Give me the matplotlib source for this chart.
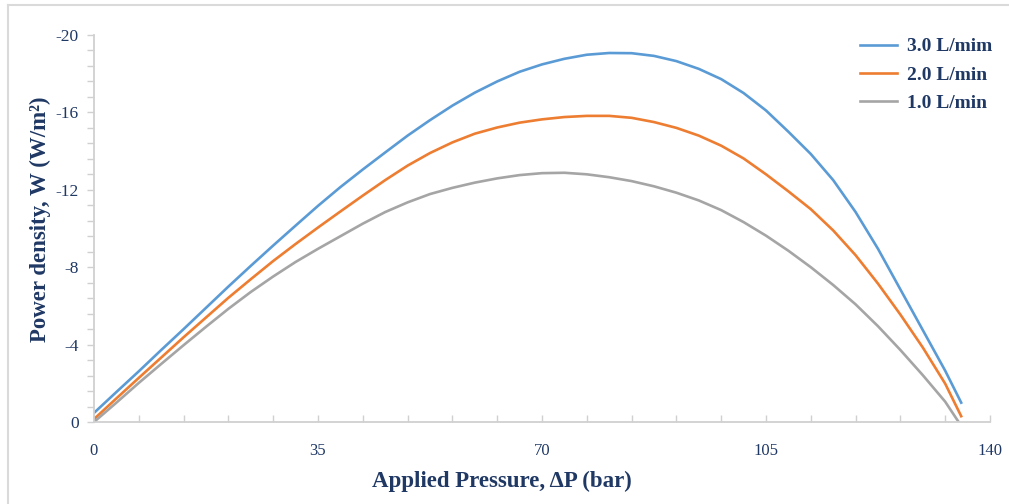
import matplotlib
matplotlib.use('Agg')
import matplotlib.pyplot as plt
from matplotlib.ticker import MultipleLocator
from matplotlib.lines import Line2D

# Applied pressure (bar)
pressure = [0, 3.5, 7, 10.5, 14, 17.5, 21, 24.5, 28, 31.5, 35, 38.5, 42, 45.5,
            49, 52.5, 56, 59.5, 63, 66.5, 70, 73.5, 77, 80.5, 84, 87.5, 91,
            94.5, 98, 101.5, 105, 108.5, 112, 115.5, 119, 122.5, 126, 129.5,
            133, 135.5]

# Power density (W/m2) for each feed flow rate
w_3lpm = [-0.47, -1.55, -2.62, -3.72, -4.8, -5.9, -7.0, -8.07, -9.12, -10.15,
          -11.17, -12.14, -13.05, -13.93, -14.8, -15.6, -16.35, -17.02, -17.6,
          -18.1, -18.48, -18.77, -18.98, -19.07, -19.06, -18.92, -18.65, -18.25,
          -17.72, -17.0, -16.1, -15.0, -13.85, -12.5, -10.85, -8.95, -6.85,
          -4.75, -2.65, -1.0]
w_2lpm = [-0.15, -1.22, -2.28, -3.33, -4.38, -5.4, -6.42, -7.38, -8.32, -9.2,
          -10.05, -10.88, -11.7, -12.5, -13.25, -13.9, -14.45, -14.9, -15.22,
          -15.47, -15.64, -15.76, -15.82, -15.82, -15.72, -15.5, -15.2, -14.8,
          -14.28, -13.62, -12.8, -11.92, -11.0, -9.9, -8.62, -7.15, -5.55,
          -3.85, -1.98, -0.3]
w_1lpm = [0.0, -1.0, -2.02, -3.0, -3.97, -4.92, -5.85, -6.72, -7.52, -8.27,
          -8.95, -9.6, -10.25, -10.85, -11.35, -11.78, -12.1, -12.37, -12.59,
          -12.76, -12.86, -12.88, -12.8, -12.65, -12.45, -12.18, -11.85, -11.45,
          -10.95, -10.33, -9.63, -8.85, -8.0, -7.08, -6.08, -4.95, -3.72, -2.42,
          -1.05, 0.2]

labels = ['3.0 L/mim', '2.0 L/min', '1.0 L/min']
colors = ['#5B9BD5', '#ED7D31', '#A5A5A5']

navy = '#1F3864'
axis_gray = '#D0D0D0'
plt.rcParams['font.family'] = ['Liberation Serif', 'DejaVu Serif']

W, H = 1009, 504
fig = plt.figure(figsize=(W / 100, H / 100), dpi=100)
ax = fig.add_axes([94 / W, 1 - 422 / H, 896 / W, 387 / H])

for series, lab, col in zip([w_3lpm, w_2lpm, w_1lpm], labels, colors):
    ax.plot(pressure, series, color=col, linewidth=1.9, label=lab,
            solid_joinstyle='round')

ax.set_xlim(0, 140)
ax.set_ylim(0, -20)
ax.xaxis.set_major_locator(MultipleLocator(35))
ax.xaxis.set_minor_locator(MultipleLocator(7))
ax.yaxis.set_major_locator(MultipleLocator(4))
ax.yaxis.set_minor_locator(MultipleLocator(0.8))
ax.yaxis.set_major_formatter(plt.FuncFormatter(lambda v, p: f'{v:.0f}' if v != 0 else '0'))

for side in ['top', 'right']:
    ax.spines[side].set_visible(False)
for side in ['left', 'bottom']:
    ax.spines[side].set_color(axis_gray)
    ax.spines[side].set_linewidth(1.3)

ax.tick_params(axis='x', which='both', direction='in', length=5, width=1,
               color=axis_gray, labelcolor=navy, labelsize=12, pad=15)
ax.tick_params(axis='y', which='both', direction='out', length=5, width=1,
               color=axis_gray, labelcolor=navy, labelsize=12.5, pad=6)

ax.set_xlabel('Applied Pressure, ΔP (bar)', fontsize=16.5, fontweight='bold',
              color=navy)
ax.xaxis.set_label_coords(0.455, -0.126)
ax.set_ylabel('Power density, W (W/m²)', fontsize=16.5, fontweight='bold',
              color=navy)
ax.yaxis.set_label_coords(-0.048, 0.525)

leg = ax.legend(loc='upper right', bbox_to_anchor=(1000 / W, 1 - 30 / H),
                bbox_transform=fig.transFigure, borderaxespad=0, frameon=False,
                prop={'weight': 'bold', 'size': 14}, handlelength=1.9,
                handletextpad=0.5, labelspacing=0.55)
for t in leg.get_texts():
    t.set_color(navy)

# light frame around the chart area
fig.add_artist(Line2D([8 / W, 1], [1 - 5 / H, 1 - 5 / H],
                      transform=fig.transFigure, color='#DADADA', linewidth=1.5))
fig.add_artist(Line2D([8 / W, 8 / W], [0, 1 - 5 / H],
                      transform=fig.transFigure, color='#DADADA', linewidth=1.5))

fig.savefig('out.png', dpi=100)
plt.close(fig)
